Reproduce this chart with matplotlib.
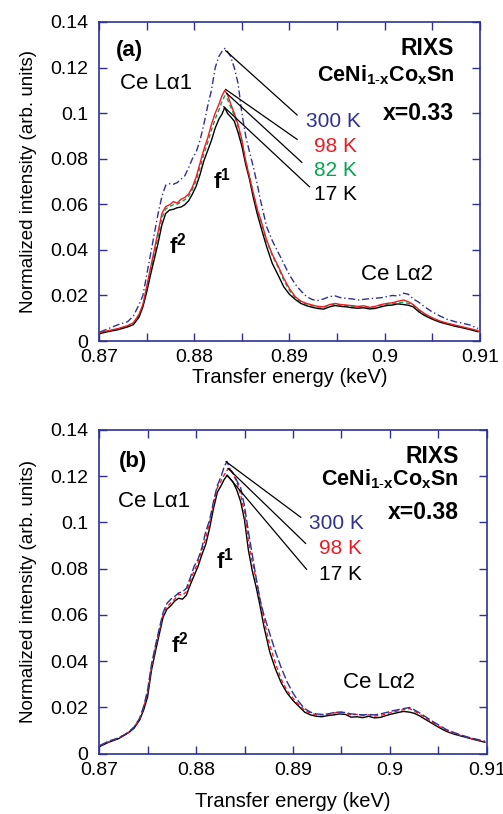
import numpy as np
import matplotlib.pyplot as plt
from matplotlib.ticker import MultipleLocator, FuncFormatter

plt.rcParams['font.family'] = ['Liberation Sans', 'DejaVu Sans']
plt.rcParams['mathtext.fontset'] = 'custom'
plt.rcParams['mathtext.rm'] = 'Liberation Sans'
plt.rcParams['mathtext.bf'] = 'Liberation Sans:bold'
plt.rcParams['mathtext.it'] = 'Liberation Sans:italic'

# ---------------------------------------------
# DATA
# ---------------------------------------------
energy = [0.8701, 0.8710, 0.8720, 0.8730, 0.8736, 0.8742, 0.8746, 0.8750, 0.8754, 0.8758,
          0.8762, 0.8766, 0.8770, 0.8774, 0.8778, 0.8782, 0.8786, 0.8790, 0.8794, 0.8798,
          0.8802, 0.8806, 0.8810, 0.8814, 0.8818, 0.8822, 0.8826, 0.8829, 0.8832, 0.8835,
          0.8838, 0.8842, 0.8846, 0.8850, 0.8854, 0.8858, 0.8862, 0.8866, 0.8870, 0.8876,
          0.8882, 0.8888, 0.8894, 0.8900, 0.8906, 0.8912, 0.8918, 0.8924, 0.8930, 0.8936,
          0.8942, 0.8948, 0.8954, 0.8960, 0.8966, 0.8972, 0.8978, 0.8984, 0.8990, 0.8996,
          0.9002, 0.9008, 0.9014, 0.9020, 0.9025, 0.9030, 0.9036, 0.9042, 0.9050, 0.9058,
          0.9066, 0.9074, 0.9082, 0.9090, 0.9098]

# panel (a), x = 0.33
a_300K = [0.0040, 0.0055, 0.0072, 0.0085, 0.0110, 0.0160, 0.0200, 0.0290, 0.0380, 0.0470,
          0.0560, 0.0635, 0.0684, 0.0690, 0.0688, 0.0695, 0.0710, 0.0725, 0.0760, 0.0800,
          0.0830, 0.0880, 0.0950, 0.1030, 0.1100, 0.1200, 0.1250, 0.1270, 0.1284, 0.1270,
          0.1250, 0.1200, 0.1130, 0.1000, 0.0900, 0.0830, 0.0765, 0.0690, 0.0610, 0.0502,
          0.0440, 0.0390, 0.0340, 0.0290, 0.0250, 0.0220, 0.0195, 0.0182, 0.0178, 0.0185,
          0.0195, 0.0198, 0.0190, 0.0187, 0.0185, 0.0180, 0.0183, 0.0186, 0.0188, 0.0190,
          0.0195, 0.0200, 0.0198, 0.0210, 0.0205, 0.0185, 0.0170, 0.0150, 0.0128, 0.0110,
          0.0095, 0.0085, 0.0078, 0.0070, 0.0055]
a_98K = [0.0038, 0.0046, 0.0055, 0.0068, 0.0080, 0.0118, 0.0160, 0.0240, 0.0320, 0.0400,
         0.0480, 0.0560, 0.0590, 0.0598, 0.0612, 0.0605, 0.0622, 0.0630, 0.0645, 0.0675,
         0.0720, 0.0780, 0.0840, 0.0890, 0.0950, 0.1000, 0.1040, 0.1075, 0.1100, 0.1080,
         0.1043, 0.1000, 0.0950, 0.0882, 0.0790, 0.0720, 0.0648, 0.0580, 0.0530, 0.0443,
         0.0380, 0.0330, 0.0275, 0.0230, 0.0195, 0.0175, 0.0165, 0.0158, 0.0152, 0.0150,
         0.0160, 0.0165, 0.0160, 0.0158, 0.0155, 0.0152, 0.0155, 0.0148, 0.0152, 0.0160,
         0.0165, 0.0168, 0.0175, 0.0180, 0.0172, 0.0160, 0.0138, 0.0120, 0.0102, 0.0088,
         0.0078, 0.0070, 0.0062, 0.0054, 0.0046]
a_82K = [0.0036, 0.0044, 0.0052, 0.0065, 0.0077, 0.0112, 0.0155, 0.0228, 0.0305, 0.0380,
         0.0460, 0.0540, 0.0580, 0.0590, 0.0598, 0.0600, 0.0610, 0.0620, 0.0635, 0.0665,
         0.0705, 0.0760, 0.0820, 0.0870, 0.0925, 0.0975, 0.1015, 0.1050, 0.1076, 0.1060,
         0.1030, 0.0990, 0.0940, 0.0875, 0.0790, 0.0722, 0.0650, 0.0580, 0.0525, 0.0440,
         0.0375, 0.0325, 0.0268, 0.0222, 0.0190, 0.0172, 0.0162, 0.0155, 0.0150, 0.0148,
         0.0158, 0.0162, 0.0158, 0.0155, 0.0152, 0.0150, 0.0152, 0.0147, 0.0150, 0.0157,
         0.0162, 0.0164, 0.0168, 0.0170, 0.0165, 0.0158, 0.0135, 0.0118, 0.0100, 0.0086,
         0.0076, 0.0068, 0.0060, 0.0052, 0.0044]
a_17K = [0.0033, 0.0042, 0.0050, 0.0062, 0.0072, 0.0105, 0.0150, 0.0215, 0.0290, 0.0360,
         0.0430, 0.0510, 0.0560, 0.0575, 0.0578, 0.0585, 0.0588, 0.0598, 0.0615, 0.0645,
         0.0680, 0.0730, 0.0790, 0.0835, 0.0880, 0.0935, 0.0975, 0.0995, 0.1025, 0.0998,
         0.0985, 0.0965, 0.0915, 0.0855, 0.0775, 0.0710, 0.0630, 0.0560, 0.0500, 0.0414,
         0.0340, 0.0290, 0.0238, 0.0205, 0.0183, 0.0165, 0.0155, 0.0148, 0.0143, 0.0140,
         0.0150, 0.0156, 0.0152, 0.0150, 0.0146, 0.0144, 0.0146, 0.0141, 0.0143, 0.0150,
         0.0156, 0.0158, 0.0163, 0.0160, 0.0157, 0.0150, 0.0128, 0.0112, 0.0096, 0.0083,
         0.0074, 0.0065, 0.0058, 0.0050, 0.0041]

# panel (b), x = 0.38
b_300K = [0.0036, 0.0055, 0.0068, 0.0092, 0.0115, 0.0155, 0.0205, 0.0275, 0.0385, 0.0465,
          0.0540, 0.0610, 0.0650, 0.0668, 0.0680, 0.0695, 0.0700, 0.0715, 0.0760, 0.0810,
          0.0840, 0.0890, 0.0960, 0.1010, 0.1090, 0.1160, 0.1200, 0.1240, 0.1263, 0.1230,
          0.1215, 0.1180, 0.1150, 0.1070, 0.0960, 0.0860, 0.0760, 0.0665, 0.0600, 0.0520,
          0.0440, 0.0370, 0.0310, 0.0262, 0.0225, 0.0195, 0.0180, 0.0172, 0.0170, 0.0172,
          0.0178, 0.0180, 0.0178, 0.0172, 0.0170, 0.0168, 0.0170, 0.0168, 0.0172, 0.0178,
          0.0185, 0.0190, 0.0195, 0.0200, 0.0190, 0.0178, 0.0162, 0.0145, 0.0125, 0.0105,
          0.0092, 0.0080, 0.0070, 0.0062, 0.0054]
b_98K = [0.0035, 0.0052, 0.0068, 0.0092, 0.0115, 0.0152, 0.0200, 0.0265, 0.0375, 0.0455,
         0.0530, 0.0600, 0.0635, 0.0652, 0.0668, 0.0690, 0.0685, 0.0700, 0.0745, 0.0790,
         0.0825, 0.0880, 0.0930, 0.1000, 0.1080, 0.1150, 0.1180, 0.1205, 0.1225, 0.1235,
         0.1210, 0.1175, 0.1120, 0.1040, 0.0920, 0.0830, 0.0750, 0.0670, 0.0580, 0.0470,
         0.0390, 0.0320, 0.0272, 0.0240, 0.0212, 0.0188, 0.0175, 0.0168, 0.0168, 0.0170,
         0.0175, 0.0182, 0.0175, 0.0168, 0.0170, 0.0165, 0.0168, 0.0163, 0.0165, 0.0172,
         0.0180, 0.0185, 0.0190, 0.0195, 0.0185, 0.0172, 0.0158, 0.0140, 0.0120, 0.0102,
         0.0088, 0.0078, 0.0068, 0.0060, 0.0052]
b_17K = [0.0032, 0.0050, 0.0065, 0.0090, 0.0110, 0.0147, 0.0190, 0.0245, 0.0360, 0.0440,
         0.0515, 0.0590, 0.0625, 0.0640, 0.0660, 0.0672, 0.0668, 0.0685, 0.0730, 0.0770,
         0.0809, 0.0860, 0.0905, 0.0975, 0.1060, 0.1130, 0.1160, 0.1185, 0.1203, 0.1190,
         0.1175, 0.1140, 0.1090, 0.1010, 0.0880, 0.0790, 0.0720, 0.0640, 0.0550, 0.0440,
         0.0365, 0.0305, 0.0262, 0.0230, 0.0205, 0.0180, 0.0168, 0.0162, 0.0160, 0.0165,
         0.0168, 0.0172, 0.0170, 0.0158, 0.0160, 0.0156, 0.0162, 0.0155, 0.0157, 0.0165,
         0.0172, 0.0178, 0.0183, 0.0180, 0.0175, 0.0165, 0.0150, 0.0135, 0.0115, 0.0097,
         0.0085, 0.0076, 0.0067, 0.0058, 0.0050]

temps_a = ['300 K', '98 K', '82 K', '17 K']
temps_b = ['300 K', '98 K', '17 K']

navy = '#2e3192'
red = '#ed1c24'
green = '#00a651'

fig = plt.figure(figsize=(5.03, 8.14), dpi=100)
ax1 = fig.add_axes([0.197, 0.581, 0.757, 0.392])
ax2 = fig.add_axes([0.197, 0.074, 0.771, 0.398])


def style_axis(ax, xpad):
    ax.set_xlim(0.87, 0.91)
    ax.set_ylim(0, 0.14)
    ax.xaxis.set_major_locator(MultipleLocator(0.01))
    ax.xaxis.set_minor_locator(MultipleLocator(0.005))
    ax.yaxis.set_major_locator(MultipleLocator(0.02))
    fmt = FuncFormatter(lambda v, p: '%g' % round(v, 4))
    ax.xaxis.set_major_formatter(fmt)
    ax.yaxis.set_major_formatter(fmt)
    ax.tick_params(which='both', direction='in', top=True, right=True,
                   color=navy, labelsize=14, width=1.0)
    ax.tick_params(which='major', length=6)
    ax.tick_params(which='minor', length=6)
    ax.tick_params(axis='y', pad=8)
    ax.tick_params(axis='x', pad=6)
    for s in ax.spines.values():
        s.set_color(navy)
        s.set_linewidth(1.2)
    ax.set_xlabel('Transfer energy (keV)', fontsize=14.5, labelpad=xpad)
    ax.set_ylabel('Normalized intensity (arb. units)', fontsize=13.5, labelpad=9)


# ---------------------------------------------
# PANEL (a)
# ---------------------------------------------
ax1.plot(energy, a_300K, color=navy, lw=1.0, ls=(0, (5, 2, 1, 2)))
ax1.plot(energy, a_82K, color=green, lw=1.0, ls=(0, (3, 2)))
ax1.plot(energy, a_17K, color='black', lw=1.0)
ax1.plot(energy, a_98K, color=red, lw=1.0)
style_axis(ax1, 1)

a_lines = [((0.8833, 0.1274), (0.8908, 0.0992)),
           ((0.8833, 0.1104), (0.8908, 0.0885)),
           ((0.8834, 0.1087), (0.8913, 0.0784)),
           ((0.8831, 0.1028), (0.8921, 0.0677))]
for (p0, p1) in a_lines:
    ax1.plot([p0[0], p1[0]], [p0[1], p1[1]], color='black', lw=0.9)

a_label_pos = [(0.8917, 0.0962), (0.8926, 0.0853), (0.8926, 0.0750), (0.8926, 0.0641)]
for t, (xx, yy), c in zip(temps_a, a_label_pos, [navy, red, green, 'black']):
    ax1.text(xx, yy, t, color=c, fontsize=15, va='center', ha='left')

ax1.text(0.8718, 0.1277, '(a)', fontsize=16, fontweight='bold', va='center')
ax1.text(0.8722, 0.1131, 'Ce Lα1', fontsize=16, va='center')
ax1.text(0.9073, 0.1284, 'RIXS', fontsize=16.5, fontweight='bold', va='center', ha='right')
ax1.text(0.9073, 0.1165, r'CeNi$_{\mathbf{1\text{-}x}}$Co$_{\mathbf{x}}$Sn', fontsize=15.5,
         fontweight='bold', va='center', ha='right')
ax1.text(0.9073, 0.1000, 'x=0.33', fontsize=16.5, fontweight='bold', va='center', ha='right')
ax1.text(0.8820, 0.0706, r'f$^{\mathbf{1}}$', fontsize=16, fontweight='bold', va='center')
ax1.text(0.8773, 0.0420, r'f$^{\mathbf{2}}$', fontsize=16, fontweight='bold', va='center')
ax1.text(0.8975, 0.0290, 'Ce Lα2', fontsize=16, va='center')

# ---------------------------------------------
# PANEL (b)
# ---------------------------------------------
ax2.plot(energy, b_17K, color='black', lw=1.0)
ax2.plot(energy, b_98K, color=red, lw=1.0, ls=(0, (3, 2)))
ax2.plot(energy, b_300K, color=navy, lw=1.0, ls=(0, (6, 2)))
style_axis(ax2, 9)

b_lines = [((0.8831, 0.1262), (0.8908, 0.1022)),
           ((0.8833, 0.1233), (0.8913, 0.0909)),
           ((0.8832, 0.1204), (0.8914, 0.0797))]
for (p0, p1) in b_lines:
    ax2.plot([p0[0], p1[0]], [p0[1], p1[1]], color='black', lw=0.9)

b_label_pos = [(0.8917, 0.0996), (0.8927, 0.0885), (0.8927, 0.0776)]
for t, (xx, yy), c in zip(temps_b, b_label_pos, [navy, red, 'black']):
    ax2.text(xx, yy, t, color=c, fontsize=15, va='center', ha='left')

ax2.text(0.8720, 0.1263, '(b)', fontsize=16, fontweight='bold', va='center')
ax2.text(0.8720, 0.1090, 'Ce Lα1', fontsize=16, va='center')
ax2.text(0.9071, 0.1283, 'RIXS', fontsize=16.5, fontweight='bold', va='center', ha='right')
ax2.text(0.9071, 0.1185, r'CeNi$_{\mathbf{1\text{-}x}}$Co$_{\mathbf{x}}$Sn', fontsize=15.5,
         fontweight='bold', va='center', ha='right')
ax2.text(0.9071, 0.1043, 'x=0.38', fontsize=16.5, fontweight='bold', va='center', ha='right')
ax2.text(0.8821, 0.0837, r'f$^{\mathbf{1}}$', fontsize=16, fontweight='bold', va='center')
ax2.text(0.8774, 0.0470, r'f$^{\mathbf{2}}$', fontsize=16, fontweight='bold', va='center')
ax2.text(0.8952, 0.0308, 'Ce Lα2', fontsize=16, va='center')

fig.savefig('out.png', dpi=100)
